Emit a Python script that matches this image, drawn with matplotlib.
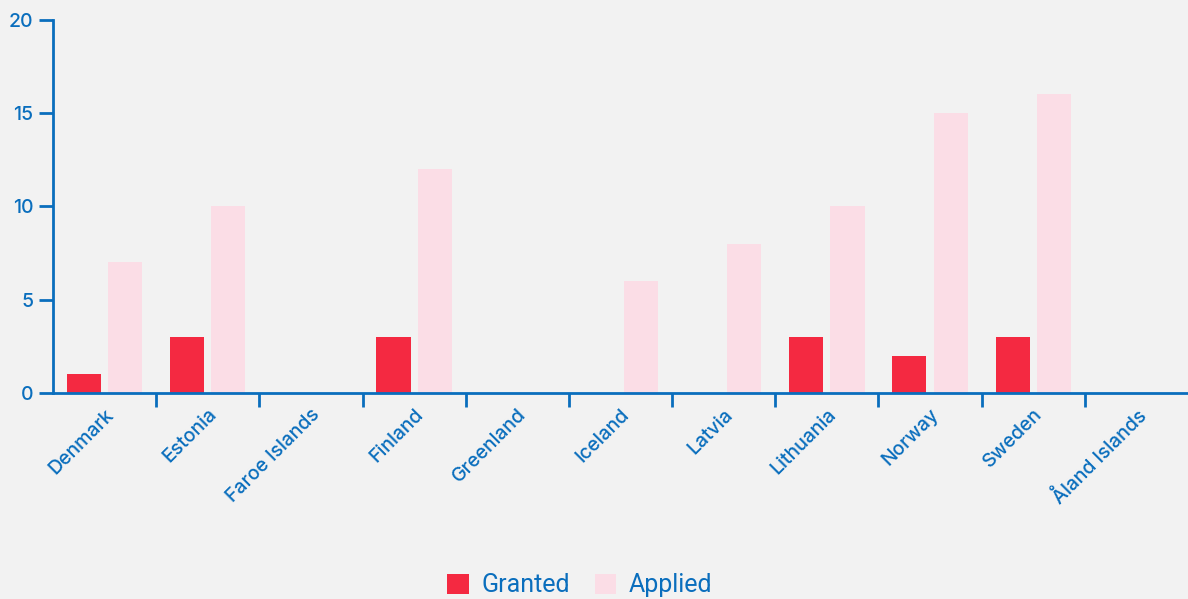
import numpy as np
import matplotlib
matplotlib.use("Agg")
import matplotlib.pyplot as plt
from matplotlib.patches import Patch

countries = ["Denmark", "Estonia", "Faroe Islands", "Finland", "Greenland", "Iceland",
             "Latvia", "Lithuania", "Norway", "Sweden", "Åland Islands"]
granted = [1, 3, 0, 3, 0, 0, 0, 3, 2, 3, 0]
applied = [7, 10, 0, 12, 0, 6, 8, 10, 15, 16, 0]

BLUE = "#0a6ebd"
RED = "#f42941"
PINK = "#fbdde6"
BG = "#f2f2f2"
TICK_FONT = "Inter"

fig = plt.figure(figsize=(11.88, 5.99), dpi=100, facecolor=BG)
ax = fig.add_axes([0.0446, 0.344, 0.9554, 0.623])
ax.set_facecolor(BG)

x = np.arange(len(countries))
w = 0.33
ax.bar(x - 0.2, granted, width=w, color=RED, zorder=2)
ax.bar(x + 0.2, applied, width=w, color=PINK, zorder=2)

ax.set_xlim(-0.5, len(countries) - 0.5)
ax.set_ylim(0, 20)
ax.set_yticks([0, 5, 10, 15, 20])

for s in ["top", "right"]:
    ax.spines[s].set_visible(False)
for s in ["left", "bottom"]:
    ax.spines[s].set_color(BLUE)
    ax.spines[s].set_linewidth(2)

# category separators as ticks
ax.set_xticks(x[:-1] + 0.5)
ax.set_xticklabels([])
ax.tick_params(axis="x", which="major", length=10, width=2, color=BLUE)
ax.set_xticks(x, minor=True)
ax.set_xticklabels(countries, minor=True, rotation=45, ha="right",
                   rotation_mode="anchor", fontsize=14, color=BLUE,
                   family=TICK_FONT, weight="medium")
ax.tick_params(axis="x", which="minor", length=0, pad=9)
ax.tick_params(axis="y", length=10, width=2, color=BLUE, labelcolor=BLUE,
               labelsize=14, pad=4)
for t in ax.get_yticklabels():
    t.set_family(TICK_FONT)
    t.set_weight("medium")

handles = [Patch(facecolor=RED, label="Granted"), Patch(facecolor=PINK, label="Applied")]
fig.legend(handles=handles, loc="lower center", bbox_to_anchor=(0.488, -0.035), ncol=2,
           frameon=False, handlelength=0.85, handleheight=0.85, handletextpad=0.5,
           columnspacing=1.0, prop={"family": "Roboto", "size": 18}, labelcolor=BLUE)

fig.savefig("out.png", dpi=100, facecolor=BG)
